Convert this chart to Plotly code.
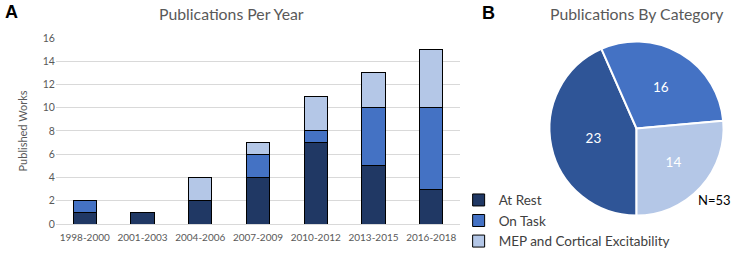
import plotly.graph_objects as go

periods = ["1998-2000", "2001-2003", "2004-2006", "2007-2009", "2010-2012", "2013-2015", "2016-2018"]
at_rest = [1, 1, 2, 4, 7, 5, 3]
on_task = [1, 0, 0, 2, 1, 5, 7]
mep = [0, 0, 2, 1, 3, 3, 5]

categories = ["At Rest", "On Task", "MEP and Cortical Excitability"]
totals = [23, 16, 14]
y_ticks = [0, 2, 4, 6, 8, 10, 12, 14, 16]

bar_colors = ["#203864", "#4472C4", "#B4C7E7"]
pie_colors = ["#2F5597", "#4472C4", "#B4C7E7"]
FONT = "Lato"
GREY = "#595959"

fig = go.Figure()
for name, vals, col in zip(categories, [at_rest, on_task, mep], bar_colors):
    fig.add_trace(go.Bar(
        x=periods, y=vals, name=name, marker=dict(color=col, line=dict(color="black", width=1)),
        xaxis="x", yaxis="y", showlegend=True, hoverinfo="x+y+name"))

fig.add_trace(go.Pie(
    labels=categories, values=totals, sort=False, direction="clockwise", rotation=180,
    marker=dict(colors=pie_colors, line=dict(color="white", width=2)),
    textinfo="value", textposition="inside", insidetextfont=dict(color="white", size=13.5, family=FONT),
    domain=dict(x=[0.742, 0.99], y=[0.148, 0.836]), showlegend=False))

fig.update_layout(
    width=735, height=253, margin=dict(l=0, r=0, t=0, b=0, autoexpand=False),
    paper_bgcolor="white", plot_bgcolor="white",
    barmode="stack", bargap=0.6,
    font=dict(family=FONT, color=GREY),
    xaxis=dict(domain=[0.076, 0.626], showline=True, linecolor="#D9D9D9", ticks="", automargin=False,
               tickfont=dict(size=10, color=GREY), showgrid=False, ticklabelstandoff=4),
    yaxis=dict(domain=[0.1146, 0.85], range=[0, 16], tickvals=y_ticks, showgrid=True, automargin=False,
               gridcolor="#D9D9D9", zeroline=False, tickfont=dict(size=10.5, color=GREY),
               title=dict(text="Published Works", font=dict(size=11, color=GREY), standoff=12)),
    legend=dict(x=0.624, y=0.27, xanchor="left", yanchor="top", traceorder="normal",
                font=dict(size=13.5, color="#404040", family=FONT), itemwidth=30,
                bgcolor="rgba(0,0,0,0)", tracegroupgap=0),
    annotations=[
        dict(text="<b>A</b>", x=3 / 735, y=1 - 12 / 253, xref="paper", yref="paper", showarrow=False,
             xanchor="left", yanchor="middle", font=dict(size=18, color="black", family="Liberation Sans")),
        dict(text="<b>B</b>", x=480 / 735, y=1 - 13 / 253, xref="paper", yref="paper", showarrow=False,
             xanchor="left", yanchor="middle", font=dict(size=18, color="black", family="Liberation Sans")),
        dict(text="Publications Per Year", x=231 / 735, y=1 - 13 / 253, xref="paper", yref="paper",
             showarrow=False, xanchor="center", yanchor="middle", font=dict(size=15.8, color=GREY)),
        dict(text="Publications By Category", x=637 / 735, y=1 - 13 / 253, xref="paper", yref="paper",
             showarrow=False, xanchor="center", yanchor="middle", font=dict(size=15.8, color=GREY)),
        dict(text="N=53", x=733 / 735, y=1 - 200 / 253, xref="paper", yref="paper",
             showarrow=False, xanchor="right", yanchor="middle", font=dict(size=13, color="black")),
    ],
)

fig.write_html("out.html", config={"displayModeBar": False},
               post_script="document.body.style.margin='0';document.body.style.overflow='hidden';")
